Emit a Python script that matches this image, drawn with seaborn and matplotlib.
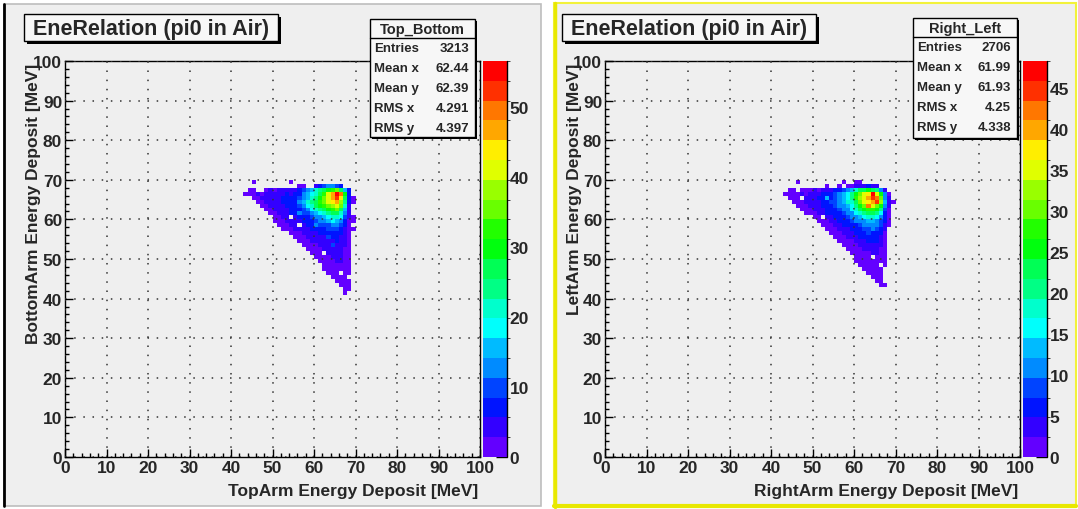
import colorsys
import numpy as np
import pandas as pd
import matplotlib
matplotlib.use("Agg")
import matplotlib.pyplot as plt
import seaborn as sns
from matplotlib.colors import ListedColormap, BoundaryNorm
from matplotlib.patches import Rectangle
from matplotlib.lines import Line2D

# ---------------- data (1 MeV bins; each row: y bin, first x bin, counts) ----------------
TB_Y = [69, 68, 67, 66, 65, 64, 63, 62, 61, 60, 59, 58, 57, 56, 55, 54, 53, 52, 51, 50,
        49, 48, 47, 46, 45, 44, 43, 42, 41]
TB_X0 = [45, 56, 44, 43, 45, 46, 47, 48, 49, 50, 50, 51, 52, 54, 55, 56, 57, 58, 59, 60,
         61, 62, 62, 63, 64, 65, 66, 67, 67]
TB_VALS = [
    [1, 0, 0, 0, 0, 0, 0, 0, 0, 1],
    [2, 1, 0, 0, 3, 6, 10, 14, 12, 10, 8],
    [1, 2, 0, 0, 2, 3, 2, 3, 4, 3, 5, 4, 6, 9, 13, 16, 20, 24, 28, 30, 32, 34, 26, 16, 6],
    [1, 2, 2, 3, 2, 3, 4, 3, 4, 5, 6, 5, 7, 8, 12, 16, 18, 22, 28, 32, 40, 46, 55, 50, 30, 8],
    [1, 2, 3, 3, 4, 5, 4, 6, 7, 6, 8, 9, 13, 16, 20, 24, 30, 36, 42, 48, 52, 44, 28, 7, 2],
    [1, 2, 3, 4, 4, 5, 6, 6, 7, 8, 12, 16, 20, 24, 28, 32, 36, 42, 44, 46, 38, 24, 6, 1],
    [1, 2, 3, 4, 4, 5, 6, 7, 8, 10, 14, 18, 22, 26, 30, 33, 36, 38, 40, 34, 20, 5],
    [1, 2, 3, 4, 5, 5, 6, 7, 8, 10, 13, 18, 20, 24, 28, 30, 32, 34, 28, 16, 4],
    [1, 2, 3, 4, 5, 6, 6, 12, 9, 10, 12, 15, 18, 22, 24, 26, 26, 22, 12, 3],
    [1, 2, 3, 4, 0, 5, 6, 7, 8, 10, 12, 14, 16, 18, 20, 22, 18, 10, 3, 1],
    [1, 1, 2, 3, 4, 4, 5, 6, 7, 8, 10, 12, 13, 16, 17, 16, 13, 8, 2, 1],
    [1, 2, 2, 3, 4, 0, 5, 6, 7, 13, 9, 10, 11, 12, 14, 10, 6, 2],
    [1, 1, 2, 3, 4, 4, 5, 6, 6, 7, 8, 9, 9, 10, 8, 5, 2, 1],
    [1, 2, 2, 3, 4, 5, 5, 6, 6, 7, 7, 8, 6, 4, 1],
    [1, 2, 2, 3, 4, 4, 5, 5, 11, 6, 7, 5, 3, 1],
    [1, 1, 2, 3, 3, 4, 4, 5, 5, 6, 5, 3, 1],
    [1, 1, 2, 2, 3, 4, 4, 9, 5, 4, 3, 1],
    [1, 1, 2, 2, 3, 3, 4, 4, 4, 2, 1],
    [1, 1, 2, 0, 3, 3, 4, 3, 2, 1],
    [1, 1, 2, 2, 3, 3, 3, 2, 1],
    [1, 1, 2, 2, 3, 3, 2, 1],
    [1, 1, 2, 2, 2, 2, 1],
    [1, 1, 1, 2, 2, 1, 1],
    [1, 1, 1, 0, 2, 1],
    [1, 1, 1, 1],
    [1, 1, 1, 1],
    [1, 1, 1],
    [1, 1],
    [1],
]

RL_Y = [69, 68, 67, 66, 65, 64, 63, 62, 61, 60, 59, 58, 57, 56, 55, 54, 53, 52, 51, 50,
        49, 48, 47, 46, 45, 44, 43]
RL_X0 = [46, 53, 44, 43, 44, 45, 46, 47, 48, 50, 51, 52, 53, 54, 55, 56, 57, 58, 59, 60,
         60, 61, 62, 63, 64, 65, 66]
RL_VALS = [
    [1, 0, 0, 0, 0, 0, 0, 0, 0, 0, 0, 1, 0, 0, 1, 1],
    [1, 0, 0, 1, 0, 2, 2, 3, 4, 3, 5, 4, 3],
    [1, 1, 0, 1, 2, 2, 3, 2, 3, 4, 3, 5, 6, 8, 11, 14, 18, 22, 24, 26, 24, 20, 12, 4],
    [1, 2, 1, 2, 3, 2, 3, 4, 4, 5, 6, 6, 8, 10, 14, 16, 20, 26, 30, 34, 38, 47, 36, 26, 10, 2],
    [1, 2, 2, 0, 3, 3, 4, 5, 5, 13, 7, 9, 10, 13, 16, 20, 27, 32, 36, 40, 44, 42, 30, 12, 3],
    [1, 1, 2, 3, 3, 4, 4, 6, 6, 8, 9, 12, 14, 17, 19, 24, 30, 34, 38, 40, 45, 32, 14, 4, 1],
    [1, 1, 2, 3, 3, 4, 5, 6, 7, 8, 11, 11, 13, 16, 20, 25, 30, 42, 34, 30, 26, 12, 3],
    [1, 1, 2, 3, 4, 4, 5, 6, 7, 8, 10, 12, 15, 18, 22, 26, 28, 28, 26, 20, 9, 2],
    [1, 2, 2, 3, 4, 5, 5, 6, 7, 9, 10, 12, 15, 18, 20, 22, 22, 20, 15, 7, 2],
    [1, 2, 0, 3, 4, 5, 6, 7, 8, 10, 12, 14, 16, 17, 18, 16, 12, 6, 1],
    [1, 2, 2, 3, 4, 5, 6, 7, 8, 10, 11, 12, 14, 14, 12, 9, 5, 1],
    [1, 2, 2, 3, 4, 5, 5, 6, 7, 9, 10, 11, 12, 10, 8, 4, 1],
    [1, 1, 2, 3, 4, 4, 5, 6, 7, 8, 9, 10, 9, 7, 3],
    [1, 1, 2, 3, 3, 4, 5, 6, 6, 8, 7, 7, 5, 2],
    [1, 1, 2, 3, 3, 4, 5, 5, 6, 6, 5, 4, 2],
    [1, 1, 2, 2, 3, 4, 4, 5, 5, 5, 3, 1],
    [1, 1, 2, 2, 3, 3, 4, 4, 4, 3, 1],
    [1, 1, 2, 2, 3, 3, 4, 3, 2, 1],
    [1, 1, 2, 2, 2, 3, 3, 2, 1],
    [1, 1, 2, 2, 0, 2, 2, 1],
    [1, 1, 1, 2, 2, 2, 1, 1],
    [1, 1, 1, 2, 1, 0, 1],
    [1, 1, 1, 1, 1],
    [1, 1, 1, 1],
    [1, 1, 2],
    [1, 1],
    [1, 1],
]

AXIS_TICKS = list(range(0, 101, 10))
TB_ZMAX = 56.5
RL_ZMAX = 48.3
TB_CTICKS = [0, 10, 20, 30, 40, 50]
RL_CTICKS = [0, 5, 10, 15, 20, 25, 30, 35, 40, 45]
TITLE = "EneRelation (pi0 in Air)"
TB_STATS = ["Top_Bottom", ("Entries", "3213"), ("Mean x", "62.44"), ("Mean y", "62.39"),
            ("RMS x", "4.291"), ("RMS y", "4.397")]
RL_STATS = ["Right_Left", ("Entries", "2706"), ("Mean x", "61.99"), ("Mean y", "61.93"),
            ("RMS x", "4.25"), ("RMS y", "4.338")]

# ---------------- style ----------------
sns.set_style("white")
plt.rcParams['font.family'] = ['Liberation Sans', 'DejaVu Sans']
plt.rcParams['font.weight'] = 'bold'

W, H = 1078, 510
fig = plt.figure(figsize=(W / 100, H / 100), dpi=100)
fig.patch.set_facecolor('white')
PADC = '#efefef'


def fx(p):
    return p / W


def fy(p):
    return 1 - p / H


def frect(x0, y0, x1, y1, **kw):
    r = Rectangle((fx(x0), fy(y1)), (x1 - x0) / W, (y1 - y0) / H,
                  transform=fig.transFigure, **kw)
    fig.add_artist(r)
    return r


def fline(xs, ys, **kw):
    fig.add_artist(Line2D([fx(v) for v in xs], [fy(v) for v in ys],
                          transform=fig.transFigure, **kw))


def faxes(x0, y0, x1, y1):
    return fig.add_axes([fx(x0), fy(y1), (x1 - x0) / W, (y1 - y0) / H])


# ROOT "pretty" palette sampled at 20 contour levels
base = [colorsys.hls_to_rgb((280.0 - (i + 1) * 5.6) / 360.0, 0.5, 1.0) for i in range(50)]
NLEV = 20
pal = [base[int((k + 0.99) * 50 / NLEV)] for k in range(NLEV)]
cmap = ListedColormap(pal)

# pads
frect(4, 5, 541, 507, facecolor=PADC, edgecolor='#bdbdbd', lw=1.2, zorder=-10)
fline([4, 4], [5, 507], color='black', lw=2.0, zorder=-9)
frect(554, 4, 1076, 508, facecolor=PADC, edgecolor='#f2f23a', lw=1.5, zorder=-10)
fline([555, 555], [4, 508], color='#e8e800', lw=2.5, zorder=-9)
fline([554, 1076], [507, 507], color='#e8e800', lw=3, zorder=-9)

panels = [
    dict(ys=TB_Y, x0s=TB_X0, vals=TB_VALS, zmax=TB_ZMAX, cticks=TB_CTICKS,
         ax=(65, 62, 480, 458), cb=(483, 62, 507, 458),
         xlabel="TopArm Energy Deposit [MeV]", ylabel="BottomArm Energy Deposit [MeV]",
         ylab_x=34, title=(24, 15, 278, 42), stats=(370, 20, 475, 138), st=TB_STATS),
    dict(ys=RL_Y, x0s=RL_X0, vals=RL_VALS, zmax=RL_ZMAX, cticks=RL_CTICKS,
         ax=(605, 62, 1020, 458), cb=(1023, 62, 1047, 458),
         xlabel="RightArm Energy Deposit [MeV]", ylabel="LeftArm Energy Deposit [MeV]",
         ylab_x=574, title=(562, 15, 816, 42), stats=(913, 19, 1017, 139), st=RL_STATS),
]

for p in panels:
    mat = np.zeros((100, 100))
    for y, x0, v in zip(p['ys'], p['x0s'], p['vals']):
        mat[y, x0:x0 + len(v)] = v
    df = pd.DataFrame(mat)
    norm = BoundaryNorm(np.linspace(0, p['zmax'], NLEV + 1), NLEV)
    ax = faxes(*p['ax'])
    cax = faxes(*p['cb'])
    ax.set_facecolor(PADC)
    sns.heatmap(df, ax=ax, cmap=cmap, norm=norm, mask=(mat <= 0), cbar=True, cbar_ax=cax,
                xticklabels=False, yticklabels=False)
    ax.set_xlim(0, 100)
    ax.set_ylim(0, 100)
    for s in ax.spines.values():
        s.set_visible(True)
        s.set_color('black')
        s.set_linewidth(1.0)
    ax.set_xticks(AXIS_TICKS)
    ax.set_yticks(AXIS_TICKS)
    ax.set_xticklabels([str(t) for t in AXIS_TICKS], fontsize=12.5, fontweight='bold')
    ax.set_yticklabels([str(t) for t in AXIS_TICKS], fontsize=12.5, fontweight='bold')
    ax.set_xticks(np.arange(0, 101, 2), minor=True)
    ax.set_yticks(np.arange(0, 101, 2), minor=True)
    ax.tick_params(which='both', direction='in', top=False, right=False,
                   bottom=True, left=True, color='black', width=1.0)
    ax.tick_params(which='major', length=6, pad=2)
    ax.tick_params(which='minor', length=3)
    ax.grid(True, which='major', color='#333333', linestyle=(0, (1, 5)), linewidth=1.1)
    ax.set_axisbelow(False)
    ax.set_xlabel('')
    ax.set_ylabel('')

    cb = ax.collections[0].colorbar
    cb.outline.set_visible(False)
    cb.set_ticks(p['cticks'])
    cb.set_ticklabels([str(t) for t in p['cticks']])
    cax.tick_params(direction='in', length=8, width=1.0, color='black', pad=2,
                    labelsize=12.5, right=True, left=False)
    for lab in cax.get_yticklabels():
        lab.set_fontweight('bold')
    cax.plot([1, 1], [0, 1], transform=cax.transAxes, color='black', lw=1.0, clip_on=False)

    # axis titles
    fig.text(fx(p['ax'][2] - 2), fy(492), p['xlabel'], ha='right', va='center',
             fontsize=12.5, fontweight='bold')
    fig.text(fx(p['ylab_x']), fy(64), p['ylabel'], ha='center', va='top', rotation=90,
             fontsize=12.5, fontweight='bold')

    # title box with shadow
    tx0, ty0, tx1, ty1 = p['title']
    frect(tx0 + 3, ty0 + 3, tx1 + 3, ty1 + 3, facecolor='black', edgecolor='none', zorder=20)
    frect(tx0, ty0, tx1, ty1, facecolor='#f7f7f7', edgecolor='black', lw=1.0, zorder=21)
    fig.text(fx((tx0 + tx1) / 2), fy((ty0 + ty1) / 2 + 1), TITLE, ha='center', va='center',
             fontsize=15.5, fontweight='bold', zorder=22)

    # stats box with shadow
    sx0, sy0, sx1, sy1 = p['stats']
    frect(sx0 + 2, sy0 + 2, sx1 + 2, sy1 + 2, facecolor='black', edgecolor='none', zorder=20)
    frect(sx0, sy0, sx1, sy1, facecolor='#f7f7f7', edgecolor='black', lw=1.0, zorder=21)
    fline([sx0, sx1], [sy0 + 19, sy0 + 19], color='black', lw=1.0, zorder=22)
    st = p['st']
    fig.text(fx((sx0 + sx1) / 2), fy(sy0 + 10), st[0], ha='center', va='center',
             fontsize=10.5, fontweight='bold', zorder=23)
    for i, (lab, val) in enumerate(st[1:]):
        yy = sy0 + 29 + 20 * i
        fig.text(fx(sx0 + 4), fy(yy), lab, ha='left', va='center', fontsize=9.5,
                 fontweight='bold', zorder=23)
        fig.text(fx(sx1 - 6), fy(yy), val, ha='right', va='center', fontsize=9.5,
                 fontweight='bold', zorder=23)

fig.savefig("out.png", dpi=100)
